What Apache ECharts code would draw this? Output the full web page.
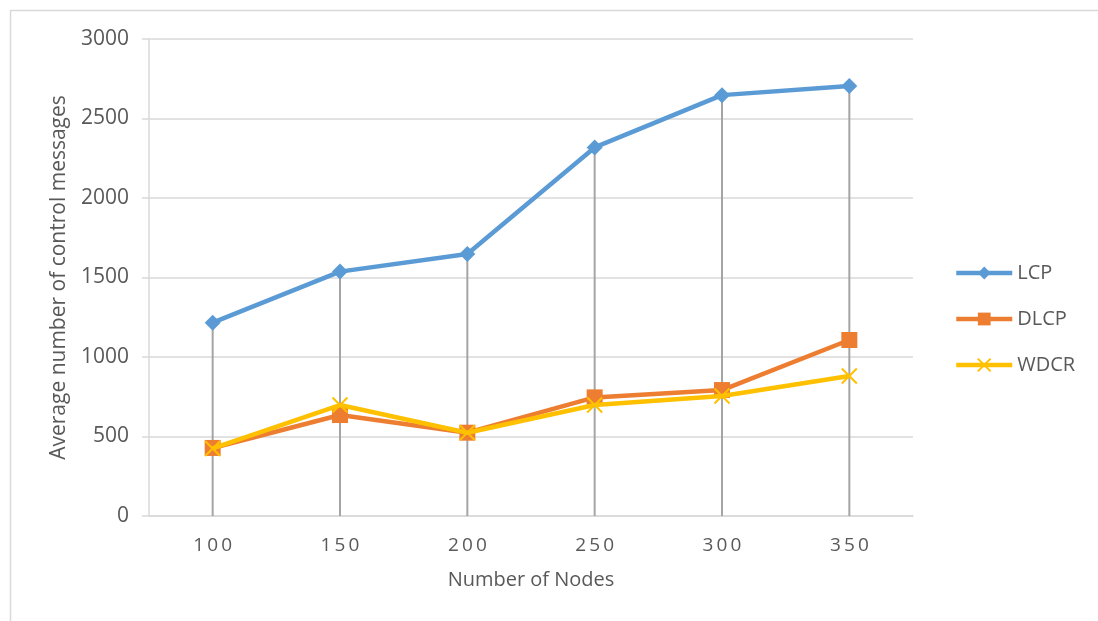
<!DOCTYPE html>
<html>
<head>
<meta charset="utf-8">
<script src="https://cdn.jsdelivr.net/npm/echarts@6/dist/echarts.min.js"></script>
<style>
    html, body { margin: 0; padding: 0; background: #fff; }
    #main { width: 1098px; height: 621px; }
</style>
</head>
<body>
<div id="main"></div>
<script>
var xData = ['100', '150', '200', '250', '300', '350'];
var lcpData = [1216, 1537, 1648, 2318, 2647, 2704];
var dlcpData = [428, 635, 524, 746, 792, 1107];
var wdcrData = [425, 698, 524, 698, 755, 881];
var yTicks = [0, 500, 1000, 1500, 2000, 2500, 3000];

var textColor = '#595959';
var gridColor = '#d9d9d9';
var font = 'Open Sans';

// drop lines go from the highest point of each category down to the axis
var dropData = xData.map(function (c, i) {
    return Math.max(lcpData[i], dlcpData[i], wdcrData[i]);
});

var myChart = echarts.init(document.getElementById('main'));

var option = {
    animation: false,
    graphic: [
        {
            type: 'rect',
            left: 8,
            top: 8,
            shape: { width: 1100, height: 620 },
            style: { fill: 'none', stroke: gridColor, lineWidth: 1.5 },
            silent: true
        }
    ],
    grid: {
        left: 149,
        right: 185,
        top: 39,
        bottom: 105
    },
    legend: {
        orient: 'vertical',
        left: 949,
        top: 258,
        itemWidth: 56,
        itemHeight: 16,
        itemGap: 26,
        data: ['LCP', 'DLCP', 'WDCR'],
        lineStyle: { width: 4.5 },
        textStyle: { color: textColor, fontSize: 20, fontFamily: font }
    },
    xAxis: {
        type: 'category',
        data: xData,
        boundaryGap: true,
        name: 'Number of Nodes',
        nameLocation: 'middle',
        nameGap: 54,
        nameTextStyle: { color: textColor, fontSize: 20, fontFamily: font },
        axisLine: { lineStyle: { color: gridColor, width: 1.5 } },
        axisTick: { show: false },
        axisLabel: {
            color: textColor,
            fontSize: 19,
            fontFamily: font,
            margin: 20,
            formatter: function (v) { return v.split('').join('\u2009'); }
        }
    },
    yAxis: {
        type: 'value',
        min: yTicks[0],
        max: yTicks[yTicks.length - 1],
        interval: 500,
        name: 'Average number of control messages',
        nameLocation: 'middle',
        nameGap: 79,
        nameTextStyle: { color: textColor, fontSize: 21, fontFamily: font },
        axisLine: { show: true, lineStyle: { color: gridColor, width: 1.5 } },
        axisTick: { show: true, length: 7, lineStyle: { color: gridColor, width: 1.5 } },
        axisLabel: {
            color: textColor,
            fontSize: 21,
            fontFamily: font,
            margin: 20,
            formatter: function (v) { return String(v); }
        },
        splitLine: { lineStyle: { color: gridColor, width: 1.5 } }
    },
    series: [
        {
            name: 'drop',
            type: 'bar',
            data: dropData,
            barWidth: 2,
            silent: true,
            z: 1,
            itemStyle: { color: '#a5a5a5' }
        },
        {
            name: 'LCP',
            type: 'line',
            data: lcpData,
            z: 4,
            symbol: 'diamond',
            symbolSize: 16,
            lineStyle: { color: '#5b9bd5', width: 4.5 },
            itemStyle: { color: '#5b9bd5' }
        },
        {
            name: 'DLCP',
            type: 'line',
            data: dlcpData,
            z: 3,
            symbol: 'rect',
            symbolSize: 16,
            lineStyle: { color: '#ed7d31', width: 4.5 },
            itemStyle: { color: '#ed7d31' }
        },
        {
            name: 'WDCR',
            type: 'line',
            data: wdcrData,
            z: 5,
            symbol: 'path://M0,0L10,10M10,0L0,10',
            symbolSize: 15,
            lineStyle: { color: '#ffc000', width: 4.5 },
            itemStyle: { color: 'rgba(0,0,0,0)', borderColor: '#ffc000', borderWidth: 2 }
        }
    ]
};

myChart.setOption(option);
</script>
</body>
</html>
